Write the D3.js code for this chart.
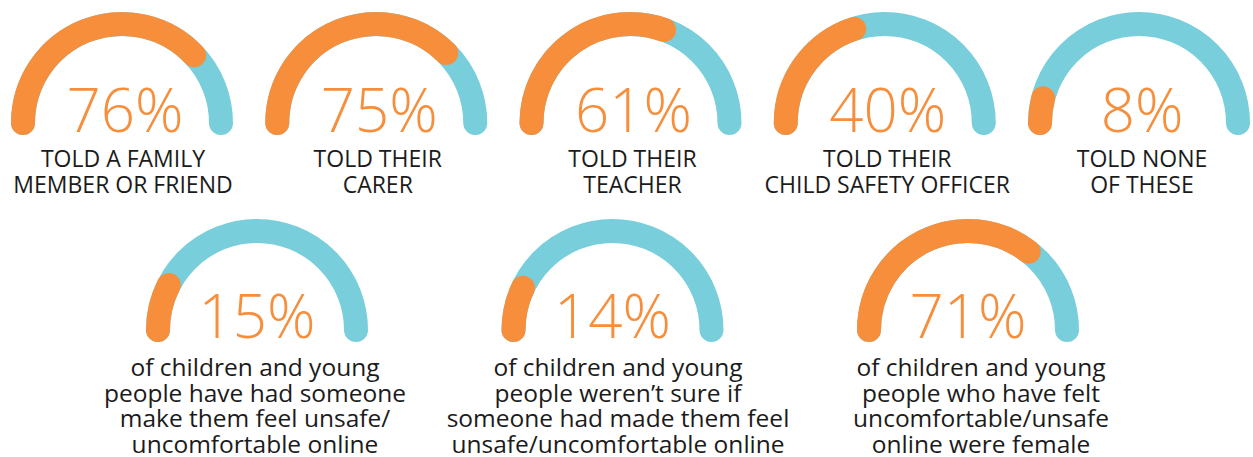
<!DOCTYPE html>
<html lang="en">
<head>
    <meta charset="utf-8">
    <title>told someone</title>
    <script src="https://cdn.jsdelivr.net/npm/d3@7"></script>
</head>
<style>
body { margin: 0; background: #fff; }
.pct { fill: #f68e3c; font-family: "Open Sans", sans-serif; font-weight: 300; font-size: 60px; text-anchor: middle; }
.lab-top { fill: #1b1b1b; font-family: "Open Sans", sans-serif; font-size: 23px; text-anchor: middle; }
.lab-bot { fill: #1b1b1b; font-family: "Open Sans", sans-serif; font-size: 24.5px; text-anchor: middle; }
</style>
<body>
<script type="text/javascript">
    // data
    var topValues = [76, 75, 61, 40, 8];
    var topLabels = [
        ["TOLD A FAMILY", "MEMBER OR FRIEND"],
        ["TOLD THEIR", "CARER"],
        ["TOLD THEIR", "TEACHER"],
        ["TOLD THEIR", "CHILD SAFETY OFFICER"],
        ["TOLD NONE", "OF THESE"]
    ];
    var bottomValues = [15, 14, 71];
    var bottomLabels = [
        ["of children and young", "people have had someone", "make them feel unsafe/", "uncomfortable online"],
        ["of children and young", "people weren\u2019t sure if", "someone had made them feel", "unsafe/uncomfortable online"],
        ["of children and young", "people who have felt", "uncomfortable/unsafe", "online were female"]
    ];

    var width = 1253, height = 457;
    var r = 99, thick = 24;
    var orange = "#f68e3c", blue = "#78ceda";

    var svg = d3.select("body")
            .append("svg")
            .attr("width", width)
            .attr("height", height);

    // value -> angle along the half circle (left = PI, right = 2PI)
    var angle = d3.scaleLinear().domain([0, 100]).range([Math.PI, 2 * Math.PI]);

    function arcPath(cx, cy, v) {
        var p = d3.path();
        p.arc(cx, cy, r, angle(0), angle(v), false);
        return p.toString();
    }

    function drawRow(values, labels, opts) {
        var x = d3.scalePoint().domain(d3.range(values.length)).range(opts.range);
        var xl = d3.scalePoint().domain(d3.range(values.length)).range(opts.labelRange);

        var g = svg.selectAll(null)
                .data(values)
                .enter()
                .append("g");

        g.append("path")
                .attr("d", function(d, i) { return arcPath(x(i), opts.cy, 100); })
                .attr("fill", "none")
                .attr("stroke", blue)
                .attr("stroke-width", thick)
                .attr("stroke-linecap", "round");

        g.append("path")
                .attr("d", function(d, i) { return arcPath(x(i), opts.cy, d); })
                .attr("fill", "none")
                .attr("stroke", orange)
                .attr("stroke-width", thick)
                .attr("stroke-linecap", "round");

        g.append("text")
                .attr("class", "pct")
                .attr("x", function(d, i) { return x(i) + opts.pctShift; })
                .attr("y", opts.pctY)
                .text(function(d) { return d + "%"; });

        g.append("text")
                .attr("class", opts.labelClass)
                .selectAll("tspan")
                .data(function(d, i) { return labels[i].map(function(s) { return {s: s, i: i}; }); })
                .enter()
                .append("tspan")
                .attr("x", function(d) { return xl(d.i); })
                .attr("y", function(d, j) { return opts.labelY + j * opts.lineH; })
                .text(function(d) { return d.s; });
    }

    drawRow(topValues, topLabels, {
        range: [122, 1139], labelRange: [123, 1142], cy: 123,
        pctY: 132, pctShift: 3, labelClass: "lab-top", labelY: 167, lineH: 26
    });

    drawRow(bottomValues, bottomLabels, {
        range: [257, 968], labelRange: [255, 981], cy: 330,
        pctY: 338, pctShift: 0, labelClass: "lab-bot", labelY: 376, lineH: 25.5
    });
</script>
</body>
</html>
